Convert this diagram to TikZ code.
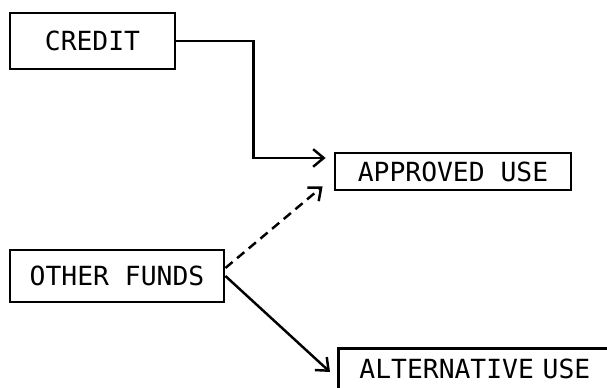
\documentclass[tikz,border=0pt]{standalone}
\usepackage{fontspec}
\setmonofont{DejaVu Sans Mono}
\usetikzlibrary{arrows.meta,positioning}

\begin{document}
\begin{tikzpicture}[font=\ttfamily\fontsize{22.5}{27}\selectfont,
  box/.style={draw, line width=2.4pt, inner sep=0pt, align=center},
  flow/.style={line width=2.1pt, -{Straight Barb[length=9pt,width=15pt]}}]
%% page frame of the scan; the last box runs off its edge
\clip (0,0) rectangle (18.21,11.64);
\node[box, minimum width=4.95cm, minimum height=1.68cm] (credit) at (2.775,10.41) {CREDIT};
\node[box, minimum width=7.08cm, minimum height=1.11cm] (approved) at (13.59,6.495) {APPROVED USE};
\node[box, minimum width=6.42cm, minimum height=1.56cm] (other) at (3.51,3.36) {OTHER FUNDS};
\node[box, anchor=north west, text width=9cm, inner xsep=0.63cm, inner ysep=0.33cm,
      text depth=1cm, align=left] (alt) at (10.11,1.23) {ALTERNATIVE USE};
%% flows
\draw[flow] (credit.east) -- ++(2.31,0) |- ([shift={(-0.24,0.405)}]approved.west);
\draw[flow, dash pattern=on 8pt off 5pt] ([yshift=0.24cm]other.east) -- ([shift={(-0.33,0.15)}]approved.south west);
\draw[flow] (other.east) -- ([shift={(-0.21,-0.75)}]alt.north west);
\end{tikzpicture}
\end{document}
